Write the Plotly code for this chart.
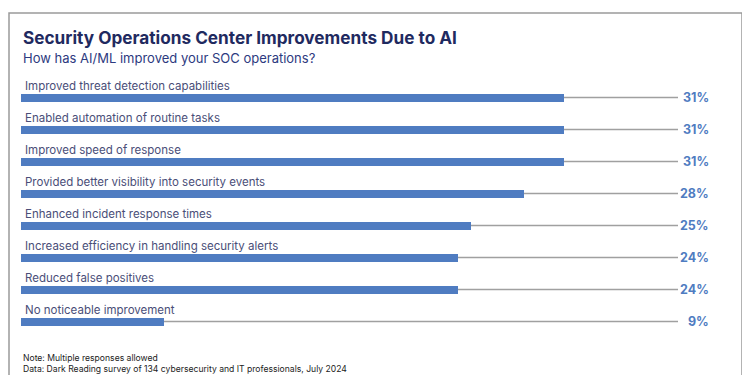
import plotly.graph_objects as go

categories = [
    "Improved threat detection capabilities",
    "Enabled automation of routine tasks",
    "Improved speed of response",
    "Provided better visibility into security events",
    "Enhanced incident response times",
    "Increased efficiency in handling security alerts",
    "Reduced false positives",
    "No noticeable improvement",
]
# bar lengths as drawn in the picture (percent)
values = [30.7, 30.7, 30.7, 28.4, 25.4, 24.7, 24.7, 8.1]
# printed labels
value_labels = ["31%", "31%", "31%", "28%", "25%", "24%", "24%", "9%"]

title = "Security Operations Center Improvements Due to AI"
subtitle = "How has AI/ML improved your SOC operations?"
notes = ["Note: Multiple responses allowed",
         "Data: Dark Reading survey of 134 cybersecurity and IT professionals, July 2024"]

OFF = 8  # page body margin
W, H = 750 - OFF, 375 - OFF
FONT = "Inter"
BAR = "#4f7cc1"
pos = list(range(len(categories)))


def px(x):
    return (x - OFF) / W


def py(y):
    return 1 - (y - OFF) / H


fig = go.Figure()
fig.add_trace(go.Bar(
    x=values, y=pos, orientation="h", width=0.25,
    marker=dict(color=BAR, line=dict(width=0)),
    hoverinfo="skip",
))

shapes = []
annotations = []
for i, (c, lab) in enumerate(zip(categories, value_labels)):
    shapes.append(dict(type="line", xref="x domain", yref="y", x0=0, x1=1, y0=i, y1=i,
                       line=dict(color="#a0a0a0", width=1.5), layer="below"))
    annotations.append(dict(xref="paper", yref="y", x=px(23), y=i - 0.36, text=c,
                            showarrow=False, xanchor="left", yanchor="middle",
                            font=dict(family=FONT, size=11.5, color="#4a4e78")))
    annotations.append(dict(xref="paper", yref="y", x=px(711), y=i, text=f"<b>{lab}</b>",
                            showarrow=False, xanchor="right", yanchor="middle",
                            font=dict(family=FONT, size=12.5, color="#4f7cc1")))

annotations.append(dict(xref="paper", yref="paper", x=px(21), y=py(38), text=f"<b>{title}</b>",
                        showarrow=False, xanchor="left", yanchor="middle",
                        font=dict(family=FONT, size=17.2, color="#1f2a60")))
annotations.append(dict(xref="paper", yref="paper", x=px(21), y=py(58), text=subtitle,
                        showarrow=False, xanchor="left", yanchor="middle",
                        font=dict(family=FONT, size=13, color="#2d3a80")))
for k, n in enumerate(notes):
    annotations.append(dict(xref="paper", yref="paper", x=px(21), y=py(358 + 11 * k), text=n,
                            showarrow=False, xanchor="left", yanchor="middle",
                            font=dict(family=FONT, size=8.6, color="#222222")))

# frame
shapes.append(dict(type="rect", xref="paper", yref="paper", x0=px(9), x1=px(742),
                   y0=-0.05, y1=py(13), line=dict(color="#9a9a9a", width=1.5),
                   fillcolor="rgba(0,0,0,0)", layer="below"))

fig.update_layout(
    width=W, height=H, margin=dict(l=0, r=0, t=0, b=0),
    paper_bgcolor="white", plot_bgcolor="white", showlegend=False,
    bargap=0,
    xaxis=dict(domain=[px(21), px(678)], range=[0, 37.12], visible=False, fixedrange=True),
    yaxis=dict(domain=[py(337.5), py(81.5)], range=[7.5, -0.5], visible=False, fixedrange=True),
    shapes=shapes, annotations=annotations,
)

fig.write_html("out.html")
